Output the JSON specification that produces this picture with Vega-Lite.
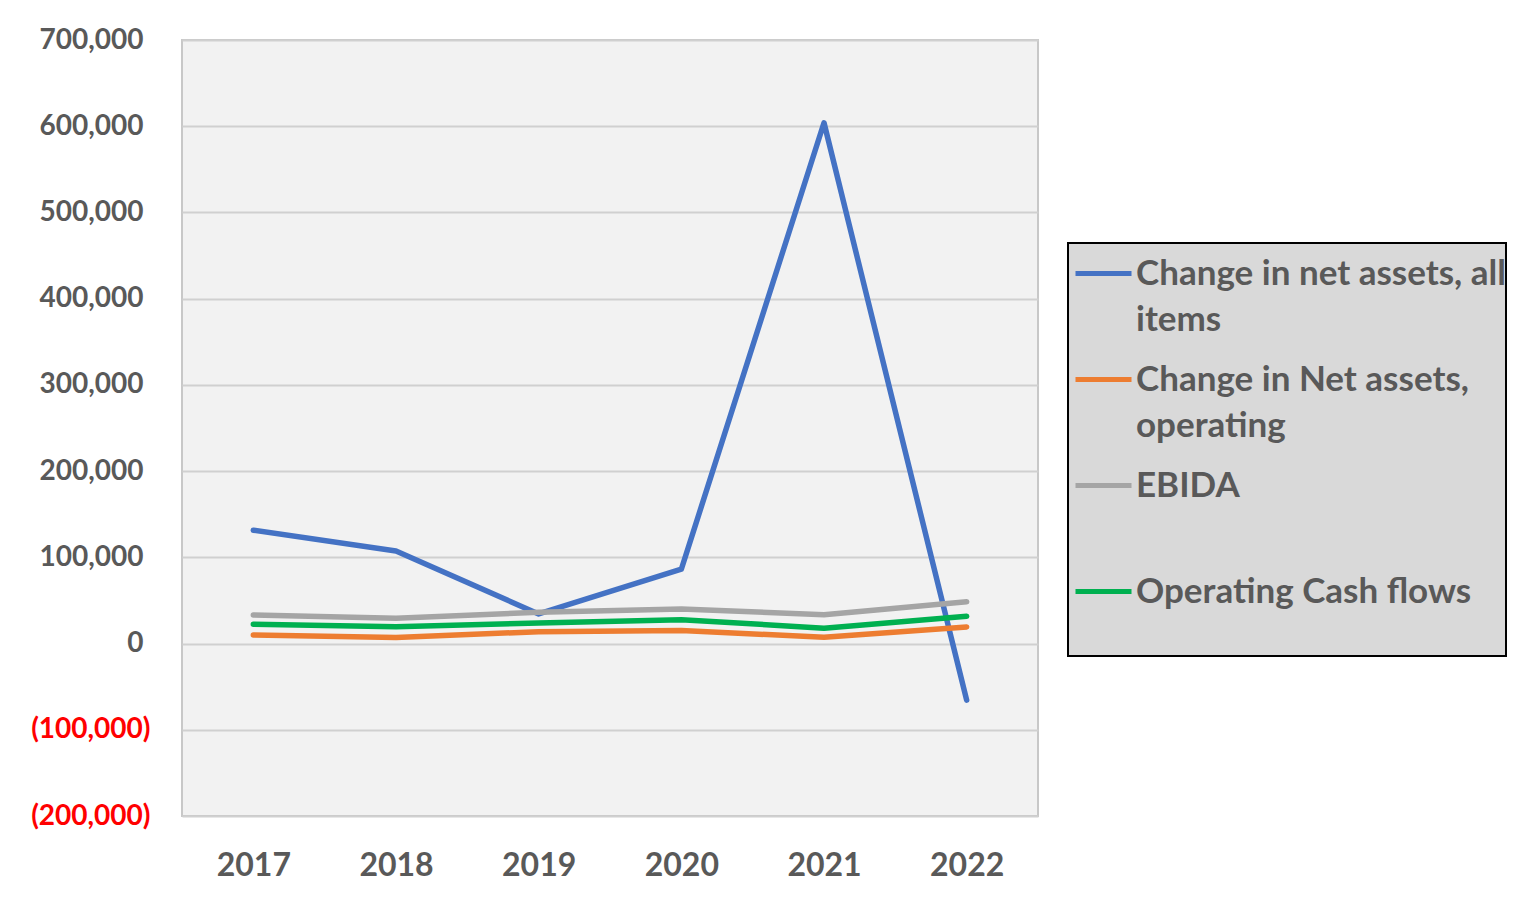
{
  "$schema": "https://vega.github.io/schema/vega-lite/v6.json",
  "width": 856,
  "height": 776,
  "autosize": {"type": "none"},
  "padding": {"left": 182, "top": 40, "right": 478, "bottom": 84},
  "background": "white",
  "config": {
    "view": {"fill": "#F2F2F2", "stroke": "#C8C8C8", "strokeWidth": 2},
    "font": "Lato"
  },
  "data": {
    "values": [
      {"year": "2017", "series": "Change in net assets, all items", "value": 131500},
      {"year": "2018", "series": "Change in net assets, all items", "value": 107300},
      {"year": "2019", "series": "Change in net assets, all items", "value": 34300},
      {"year": "2020", "series": "Change in net assets, all items", "value": 86200},
      {"year": "2021", "series": "Change in net assets, all items", "value": 604000},
      {"year": "2022", "series": "Change in net assets, all items", "value": -65700},
      {"year": "2017", "series": "Change in Net assets, operating", "value": 10000},
      {"year": "2018", "series": "Change in Net assets, operating", "value": 7000},
      {"year": "2019", "series": "Change in Net assets, operating", "value": 13800},
      {"year": "2020", "series": "Change in Net assets, operating", "value": 15000},
      {"year": "2021", "series": "Change in Net assets, operating", "value": 7400},
      {"year": "2022", "series": "Change in Net assets, operating", "value": 19300},
      {"year": "2017", "series": "EBIDA", "value": 33100},
      {"year": "2018", "series": "EBIDA", "value": 29300},
      {"year": "2019", "series": "EBIDA", "value": 36200},
      {"year": "2020", "series": "EBIDA", "value": 40000},
      {"year": "2021", "series": "EBIDA", "value": 33500},
      {"year": "2022", "series": "EBIDA", "value": 48400},
      {"year": "2017", "series": "Operating Cash flows", "value": 22400},
      {"year": "2018", "series": "Operating Cash flows", "value": 19600},
      {"year": "2019", "series": "Operating Cash flows", "value": 23900},
      {"year": "2020", "series": "Operating Cash flows", "value": 27700},
      {"year": "2021", "series": "Operating Cash flows", "value": 17800},
      {"year": "2022", "series": "Operating Cash flows", "value": 31600}
    ]
  },
  "mark": {"type": "line", "strokeWidth": 5.5, "strokeCap": "round", "strokeJoin": "round"},
  "encoding": {
    "x": {
      "field": "year",
      "type": "ordinal",
      "scale": {"type": "point", "padding": 0.5},
      "axis": {
        "title": null,
        "labelAngle": 0,
        "domain": false,
        "ticks": false,
        "grid": false,
        "labelFont": "Lato",
        "labelFontWeight": "bold",
        "labelFontSize": 32,
        "labelColor": "#595959",
        "labelPadding": 34
      }
    },
    "y": {
      "field": "value",
      "type": "quantitative",
      "scale": {"domain": [-200000, 700000], "nice": false, "zero": false},
      "axis": {
        "title": null,
        "values": [-200000, -100000, 0, 100000, 200000, 300000, 400000, 500000, 600000, 700000],
        "domain": false,
        "ticks": false,
        "gridColor": "#D0D0D0",
        "gridWidth": 2,
        "labelExpr": "datum.value < 0 ? '(' + format(-datum.value, ',') + ')' : format(datum.value, ',')",
        "labelColor": {"condition": {"test": "datum.value < 0", "value": "#FF0000"}, "value": "#595959"},
        "labelFont": "Lato",
        "labelFontWeight": "bold",
        "labelFontSize": 28,
        "labelPadding": {"condition": {"test": "datum.value < 0", "value": 32}, "value": 39}
      }
    },
    "color": {
      "field": "series",
      "type": "nominal",
      "scale": {
        "domain": ["Change in net assets, all items", "Change in Net assets, operating", "EBIDA", "Operating Cash flows"],
        "range": ["#4472C4", "#ED7D31", "#A5A5A5", "#00B050"]
      },
      "legend": {
        "orient": "none",
        "legendX": 886,
        "legendY": 203,
        "title": null,
        "symbolType": "stroke",
        "symbolStrokeWidth": 5,
        "symbolSize": 3136,
        "symbolOffset": 5,
        "labelFont": "Lato",
        "labelFontWeight": "bold",
        "labelFontSize": 35,
        "labelColor": "#595959",
        "labelLimit": 800,
        "labelOffset": 2,
        "labelExpr": "datum.label == 'Change in net assets, all items' ? ['Change in net assets, all', 'items'] : datum.label == 'Change in Net assets, operating' ? ['Change in Net assets,', 'operating'] : datum.label == 'Operating Cash flows' ? ['Operating Cash flows', ''] : datum.label",
        "fillColor": "#D9D9D9",
        "strokeColor": "black",
        "padding": 0,
        "rowPadding": 11,
        "gridAlign": "all",
        "encode": {
          "labels": {"update": {"lineHeight": {"value": 46}}},
          "legend": {"update": {"strokeWidth": {"value": 2}, "width": {"value": 470}, "height": {"value": 424}}}
        }
      }
    }
  }
}
